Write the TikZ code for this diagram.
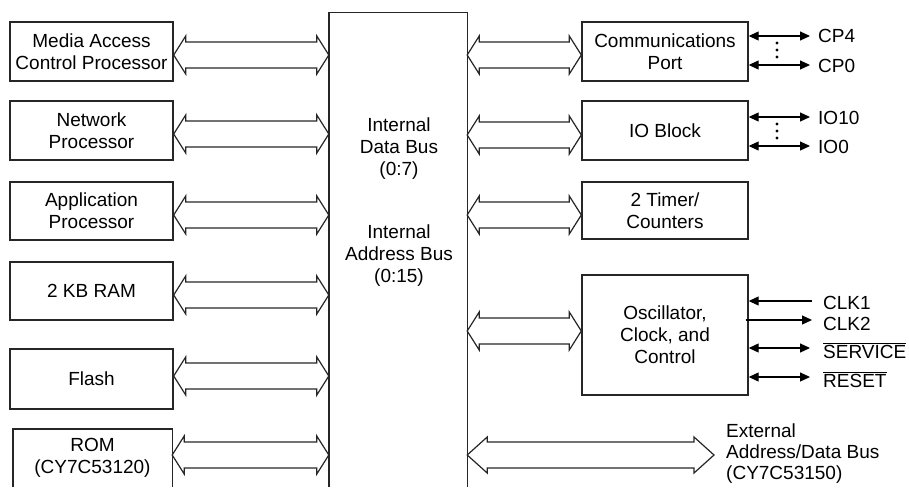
\documentclass[tikz,border=0pt]{standalone}
\usepackage{fontspec}
\setmainfont{Liberation Sans}
\usetikzlibrary{arrows.meta,calc}
\newcommand\busarrow[4]{\draw[busline] let \p1=#1, \p2=#2 in
 (\x1,\y1) -- (\x1+#3,\y1+#4) -- (\x1+#3,\y1+13pt) -- (\x2-#3,\y2+13pt) -- (\x2-#3,\y2+#4) -- (\x2,\y2)
 -- (\x2-#3,\y2-#4) -- (\x2-#3,\y2-13pt) -- (\x1+#3,\y1-13pt) -- (\x1+#3,\y1-#4) -- cycle;}
\begin{document}
\begin{tikzpicture}[x=1pt,y=1pt,
  font=\fontsize{19}{22}\selectfont,
  boxline/.style={draw=black!85, line width=1.4pt},
  blk/.style={boxline, inner sep=0pt, align=center, minimum width=163pt},
  rblk/.style={boxline, inner sep=0pt, align=center, minimum width=166pt},
  busline/.style={draw=black!85, line width=1.2pt, line join=miter},
  sigline/.style={draw=black, line width=1.2pt, {Triangle[length=10pt,width=9pt]}-{Triangle[length=10pt,width=9pt]}},
  sigr/.style={draw=black, line width=1.2pt, -{Triangle[length=10pt,width=9pt]}},
  sig/.style={inner sep=0pt, anchor=base west}]
\useasboundingbox (0,0) rectangle (909,-487);

% left column
\node[blk, minimum height=59pt] (mac) at (91.5,-51.5) {Media Access\\Control Processor};
\node[blk, minimum height=59pt] (net) at (91.5,-130.5) {Network\\Processor};
\node[blk, minimum height=58pt] (app) at (91.5,-211) {Application\\Processor};
\node[blk, minimum height=58pt] (ram) at (91.5,-291) {2 KB RAM};
\node[blk, minimum height=60pt] (flash) at (91.5,-379) {Flash};
\node[inner sep=0pt, align=center, minimum width=159pt, minimum height=58pt] (rom) at (92.5,-458) {ROM\\(CY7C53120)};
\draw[boxline] (rom.south west) |- (rom.north east) -- (rom.south east);

% central bus
\node[inner sep=0pt, minimum width=138pt, minimum height=474pt] (bus) at (398,-250) {};
\draw[boxline] (bus.south west) |- (bus.north east) -- (bus.south east);
\node[align=center, inner sep=0pt] (dbus) at (399,-149) {Internal\\Data Bus\\(0:7)};
\node[align=center, inner sep=0pt] (abus) at (399,-256) {Internal\\Address Bus\\(0:15)};

% right column
\node[rblk, minimum height=59pt] (comm) at (665,-51.5) {Communications\\Port};
\node[rblk, minimum height=59pt] (io) at (665,-130.5) {IO Block};
\node[rblk, minimum height=57pt] (tmr) at (665,-210.5) {2 Timer/\\Counters};
\node[rblk, minimum height=120pt] (osc) at (665,-335) {Oscillator,\\Clock, and\\Control};

% bus arrows
\busarrow{(mac.east |- 0,-55)}{(bus.west |- 0,-55)}{12pt}{19pt}
\busarrow{(net.east |- 0,-134)}{(bus.west |- 0,-134)}{12pt}{19pt}
\busarrow{(app.east |- 0,-215)}{(bus.west |- 0,-215)}{12pt}{19pt}
\busarrow{(ram.east |- 0,-295)}{(bus.west |- 0,-295)}{12pt}{19pt}
\busarrow{(flash.east |- 0,-376)}{(bus.west |- 0,-376)}{12pt}{19pt}
\busarrow{(rom.east |- 0,-455)}{(bus.west |- 0,-455)}{12pt}{19pt}
\busarrow{(bus.east |- 0,-55)}{(comm.west |- 0,-55)}{12pt}{19pt}
\busarrow{(bus.east |- 0,-135)}{(io.west |- 0,-135)}{12pt}{19pt}
\busarrow{(bus.east |- 0,-215)}{(tmr.west |- 0,-215)}{12pt}{19pt}
\busarrow{(bus.east |- 0,-331)}{(osc.west |- 0,-331)}{12pt}{19pt}
\coordinate (ext) at (714,-455);
\busarrow{(bus.east |- ext)}{(ext)}{20pt}{18pt}
\node[inner sep=0pt, anchor=west, align=left, font=\fontsize{19}{21}\selectfont] (extl) at (726,-454) {External\\Address/Data Bus\\(CY7C53150)};

% comm port signals
\coordinate (cp4e) at (810,-36);
\coordinate (cp0e) at (810,-65);
\node[sig] (cp4) at (818,-43) {CP4};
\node[sig] (cp0) at (818,-72) {CP0};
\draw[sigline] (comm.east |- cp4e) -- (cp4e);
\draw[sigline] (comm.east |- cp0e) -- (cp0e);
\foreach \yy in {43,50,57} \fill (777,-\yy) circle (1.6pt);

% IO signals
\coordinate (io10e) at (810,-117);
\coordinate (io0e) at (810,-146);
\node[sig] (io10) at (818,-124) {IO10};
\node[sig] (io0) at (818,-153) {IO0};
\draw[sigline] (io.east |- io10e) -- (io10e);
\draw[sigline] (io.east |- io0e) -- (io0e);
\foreach \yy in {124,131,138} \fill (777,-\yy) circle (1.6pt);

% oscillator signals
\coordinate (clk1e) at (812,-301);
\coordinate (clk2e) at (812,-320);
\coordinate (svce) at (810,-348);
\coordinate (rste) at (810,-377);
\node[sig] (clk1) at (823,-309) {CLK1};
\node[sig] (clk2) at (823,-330) {CLK2};
\node[sig] (svc) at (823,-358) {$\overline{\mbox{SERVICE}}$};
\node[sig] (rst) at (823,-387) {$\overline{\mbox{RESET}}$};
\draw[sigr] (clk1e) -- (osc.east |- clk1e);
\draw[sigr] ([xshift=-3pt]osc.east |- clk2e) -- (clk2e);
\draw[sigline] (osc.east |- svce) -- (svce);
\draw[sigline] (osc.east |- rste) -- (rste);
\end{tikzpicture}
\end{document}
